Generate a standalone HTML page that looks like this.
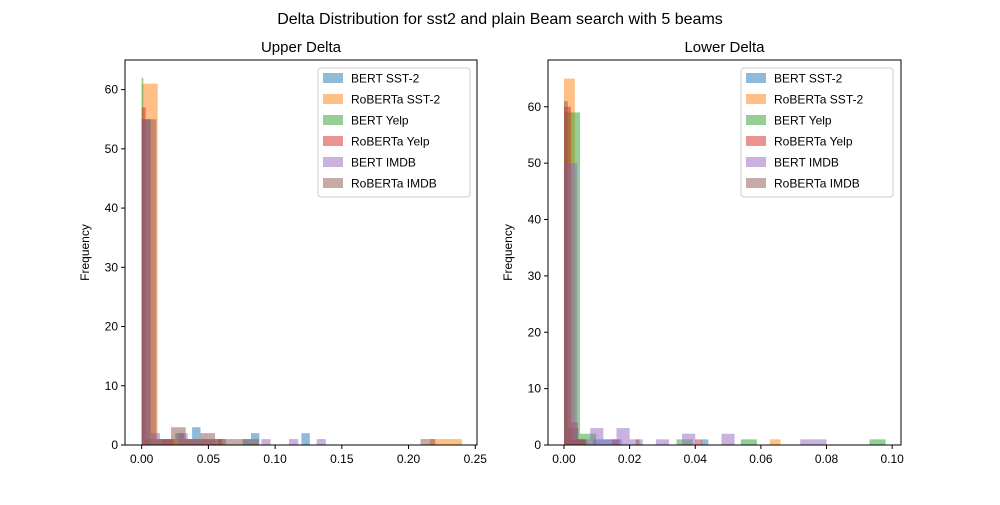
<!DOCTYPE html>
<html><head><meta charset="utf-8"><style>
body{margin:0;background:#fff}
svg text{font-family:"Liberation Sans","DejaVu Sans",sans-serif;fill:#000}
</style></head><body>
<svg id="c" width="1000" height="500" xmlns="http://www.w3.org/2000/svg">
<text x="500" y="24" text-anchor="middle" font-size="16">Delta Distribution for sst2 and plain Beam search with 5 beams</text>
</svg>
<script>
const seriesNames=["BERT SST-2","RoBERTa SST-2","BERT Yelp","RoBERTa Yelp","BERT IMDB","RoBERTa IMDB"];
const colors=["#1f77b4","#ff7f0e","#2ca02c","#d62728","#9467bd","#8c564b"];
// upper delta: bin widths and counts (20 bins from 0)
const upperWidths=[0.0063,0.012,0.0012,0.003,0.0069,0.011];
const upperCounts=[
[55,1,1,1,2,1,3,1,1,1,0,0,1,2,0,0,0,0,0,2],
[61,1,1,1,1,0,0,0,0,0,0,0,0,0,0,0,0,0,1,1],
[62,0,0,0,0,1,0,0,0,0,0,0,0,0,0,0,0,0,0,0],
[57,1,0,0,0,1,1,1,0,0,0,0,0,0,0,0,0,0,0,1],
[55,2,1,0,2,1,1,1,0,0,0,0,0,1,0,0,1,0,0,1],
[55,1,3,1,2,1,1,1,0,0,0,0,0,0,0,0,0,0,0,1]];
const lowerWidths=[0.0022,0.0033,0.0049,0.0021,0.004,0.00115];
const lowerCounts=[
[50,3,1,0,1,1,1,1,0,0,0,0,0,0,0,0,0,0,0,1],
[65,1,0,0,0,0,0,0,0,0,0,0,0,0,0,0,0,0,0,1],
[59,2,0,0,0,0,0,1,0,0,0,1,0,0,0,0,0,0,0,1],
[60,4,1,0,0,0,0,1,0,0,0,0,0,0,0,0,0,0,0,1],
[50,1,3,1,3,1,0,1,0,2,0,0,2,0,0,0,0,0,1,1],
[61,3,1,1,1,1,0,0,0,0,0,0,0,0,0,0,0,0,0,1]];
const upperXTicks=[0,0.05,0.10,0.15,0.20,0.25];
const upperXLabels=["0.00","0.05","0.10","0.15","0.20","0.25"];
const lowerXTicks=[0,0.02,0.04,0.06,0.08,0.10];
const lowerXLabels=["0.00","0.02","0.04","0.06","0.08","0.10"];
const yTicks=[0,10,20,30,40,50,60];

const NS="http://www.w3.org/2000/svg";
const svg=document.getElementById("c");
function mk(tag,attrs,parent){const e=document.createElementNS(NS,tag);for(const k in attrs)e.setAttribute(k,attrs[k]);(parent||svg).appendChild(e);return e;}

function panel(p){
  const g=mk("g",{});
  
  
  const xs=v=>p.x0+(v-p.xmin)/(p.xmax-p.xmin)*(p.x1-p.x0);
  const ys=v=>p.y0-v/p.ymax*(p.y0-p.y1);
  p.counts.forEach((cs,si)=>{
    cs.forEach((c,bi)=>{
      if(!c)return;
      const a=xs(bi*p.widths[si]),b=xs((bi+1)*p.widths[si]);
      const r=mk("rect",{x:a,y:ys(c),width:Math.max(b-a,0.8),height:ys(0)-ys(c),fill:colors[si],"fill-opacity":0.5},g);
      
      
    });
  });
  const fr=mk("rect",{x:p.x0,y:p.y1,width:p.x1-p.x0,height:p.y0-p.y1,fill:"none",stroke:"#000","stroke-width":1},g);
  
  
  p.xt.forEach((v,i)=>{
    mk("line",{x1:xs(v),x2:xs(v),y1:p.y0,y2:p.y0+4,stroke:"#000"},g);
    const t=mk("text",{x:xs(v),y:p.y0+18,"text-anchor":"middle","font-size":12},g);
    t.textContent=p.xl[i];
    
    
  });
  yTicks.forEach(v=>{
    mk("line",{x1:p.x0-4,x2:p.x0,y1:ys(v),y2:ys(v),stroke:"#000"},g);
    const t=mk("text",{x:p.x0-7,y:ys(v)+4,"text-anchor":"end","font-size":12},g);
    t.textContent=v;
    
    
  });
  const tt=mk("text",{x:(p.x0+p.x1)/2,y:p.y1-8,"text-anchor":"middle","font-size":15},g);
  tt.textContent=p.title;
  
  
  const yl=mk("text",{x:0,y:0,"text-anchor":"middle","font-size":12,transform:`translate(${p.x0-36},${(p.y0+p.y1)/2}) rotate(-90)`},g);
  yl.textContent="Frequency";
  
  
  const lg=mk("g",{},g);
  
  
  mk("rect",{x:p.lx,y:p.y1+8,width:152,height:129,rx:3,fill:"#fff","fill-opacity":0.8,stroke:"#ccc"},lg);
  seriesNames.forEach((n,i)=>{
    const cy=p.y1+18+i*21;
    mk("rect",{x:p.lx+5,y:cy-5,width:20,height:10,fill:colors[i],"fill-opacity":0.5},lg);
    const t=mk("text",{x:p.lx+33,y:cy+4.5,"font-size":12},lg);
    t.textContent=n;
    
    
  });
}
panel({id:"upper",x0:125,x1:477,y0:445,y1:60,xmin:-0.0125,xmax:0.2513,ymax:65.0,
  widths:upperWidths,counts:upperCounts,xt:upperXTicks,xl:upperXLabels,title:"Upper Delta",lx:318});
panel({id:"lower",x0:548,x1:901,y0:445,y1:60,xmin:-0.00487,xmax:0.1027,ymax:68.3,
  widths:lowerWidths,counts:lowerCounts,xt:lowerXTicks,xl:lowerXLabels,title:"Lower Delta",lx:741});
</script>
</body></html>
